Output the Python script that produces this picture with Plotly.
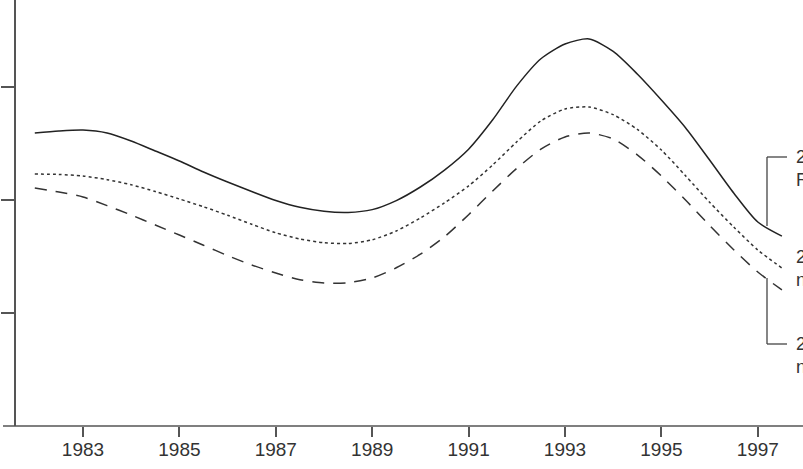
import plotly.graph_objects as go

years = [1982, 1982.5, 1983, 1983.5, 1984, 1984.5, 1985, 1985.5, 1986, 1986.5,
         1987, 1987.5, 1988, 1988.5, 1989, 1989.5, 1990, 1990.5, 1991, 1991.5,
         1992, 1992.5, 1993, 1993.5, 1994, 1994.5, 1995, 1995.5, 1996, 1996.5,
         1997, 1997.5]
series_solid = [2.593, 2.611, 2.619, 2.593, 2.522, 2.434, 2.345, 2.248, 2.159, 2.075,
                1.995, 1.935, 1.900, 1.890, 1.915, 1.995, 2.115, 2.265, 2.450, 2.710,
                3.010, 3.250, 3.381, 3.425, 3.315, 3.115, 2.885, 2.640, 2.354, 2.062,
                1.805, 1.681]
series_dotted = [2.230, 2.226, 2.212, 2.180, 2.135, 2.075, 2.009, 1.940, 1.865, 1.785,
                 1.710, 1.655, 1.622, 1.615, 1.648, 1.726, 1.841, 1.975, 2.125, 2.310,
                 2.515, 2.700, 2.805, 2.823, 2.755, 2.625, 2.442, 2.215, 1.980, 1.761,
                 1.558, 1.398]
series_dashed = [2.106, 2.071, 2.027, 1.950, 1.867, 1.779, 1.690, 1.600, 1.508, 1.425,
                 1.354, 1.295, 1.266, 1.268, 1.310, 1.400, 1.520, 1.675, 1.870, 2.080,
                 2.280, 2.450, 2.558, 2.593, 2.540, 2.400, 2.212, 2.000, 1.775, 1.560,
                 1.363, 1.204]
x_ticks = [1983, 1985, 1987, 1989, 1991, 1993, 1995, 1997]
y_ticks = [1, 2, 3]
labels = ["2000<br>Real", "2000<br>nominal", "2000<br>nominal"]

W, H = 803, 469
L, B, T, R = 16, 43, 0, 0
PW, PH = W - L - R, H - B - T

def px(x):
    return (x - L) / PW

def py(y):
    return (H - B - y) / PH

FONT = "Liberation Sans, Arial, sans-serif"
fig = go.Figure()
for vals, dash, color in [(series_solid, "solid", "#222"),
                          (series_dotted, "dot", "#333"),
                          (series_dashed, "12px,9px", "#333")]:
    fig.add_trace(go.Scatter(x=years, y=vals, mode="lines",
                             line=dict(color=color, width=1.5, dash=dash,
                                       shape="spline", smoothing=0.7),
                             showlegend=False, hoverinfo="skip"))

line_col = "#555"
shapes = [
    dict(type="line", xref="paper", yref="paper", x0=px(3), x1=px(803),
         y0=0, y1=0, line=dict(color=line_col, width=1.5)),
    dict(type="line", xref="paper", yref="paper", x0=px(767), x1=px(787),
         y0=py(157), y1=py(157), line=dict(color="#444", width=1.3)),
    dict(type="line", xref="paper", yref="paper", x0=px(767), x1=px(767),
         y0=py(157), y1=py(226), line=dict(color="#444", width=1.3)),
    dict(type="line", xref="paper", yref="paper", x0=px(767), x1=px(767),
         y0=py(278), y1=py(344), line=dict(color="#444", width=1.3)),
    dict(type="line", xref="paper", yref="paper", x0=px(767), x1=px(787),
         y0=py(344), y1=py(344), line=dict(color="#444", width=1.3)),
]
annots = []
for txt, yc in zip(labels, [168, 268, 355]):
    annots.append(dict(text=txt, xref="paper", yref="paper", x=px(794), y=py(yc),
                       xanchor="left", yanchor="middle", showarrow=False,
                       align="left", font=dict(family=FONT, size=18, color="#333")))

fig.update_layout(
    width=W, height=H, margin=dict(l=L, r=R, t=T, b=B, pad=0),
    paper_bgcolor="white", plot_bgcolor="white",
    shapes=shapes, annotations=annots,
    font=dict(family=FONT, size=18, color="#333"),
    xaxis=dict(range=[1981.61, 1983 + (803 - 83) / 48.2], tickvals=x_ticks,
               ticks="outside", ticklen=10, tickwidth=1.5, tickcolor=line_col,
               showline=False, showgrid=False, zeroline=False,
               ticklabelstandoff=-4,
               tickfont=dict(family=FONT, size=19, color="#333")),
    yaxis=dict(range=[0, 426 / 113], tickvals=y_ticks, ticks="outside",
               ticklen=13, tickwidth=1.5, tickcolor=line_col, showticklabels=False,
               showline=True, linecolor=line_col, linewidth=1.5,
               showgrid=False, zeroline=False),
)
fig.write_html("out.html")
